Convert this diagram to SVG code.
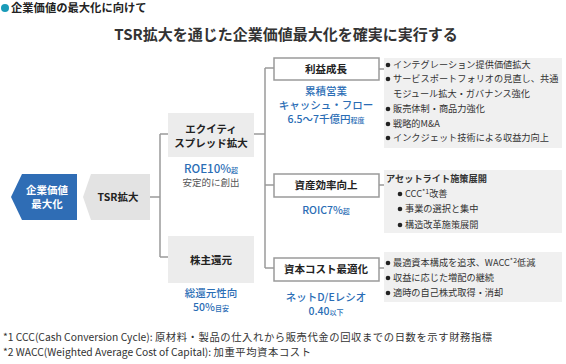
<svg xmlns="http://www.w3.org/2000/svg" width="566" height="364" viewBox="0 0 566 364">
<style>
text{font-family:"Noto Sans CJK JP","Noto Sans",sans-serif;}
.b{font-weight:bold;}
.lbl{font-size:10.5px;font-weight:bold;fill:#222;text-anchor:middle;}
.blue{font-size:10.5px;font-weight:500;fill:#2a6db5;text-anchor:middle;}
.sm{font-size:7px;}
.gray{font-size:9.5px;fill:#555;text-anchor:middle;}
.li{font-size:9.2px;fill:#333;}
.box{fill:#fff;stroke:#9a9a9a;stroke-width:1.5;}
.gbox{fill:#ececec;}
.panel{fill:#f0f0f0;}
.con{fill:none;stroke:#9a9a9a;stroke-width:1.5;}
.dot{fill:#222;}
.fn{font-size:10.3px;fill:#333;}
.fj{letter-spacing:0.6px;}
</style>
<rect width="566" height="364" fill="#fff"/>
<circle cx="5" cy="8" r="4" fill="#1a9bb8"/>
<text x="11" y="12" class="b" font-size="11.3" fill="#222">企業価値の最大化に向けて</text>
<text x="286" y="40" class="b" font-size="15" fill="#333" text-anchor="middle">TSR拡大を通じた企業価値最大化を確実に実行する</text>

<g id="connectors">
<path class="con" d="M150 197H160M160 134V257M160 134H168M160 257H168"/>
<path class="con" d="M254 134H265M265 68V268M265 68H274M265 185H274M265 268H274"/>
<path class="con" d="M379 69H384M379 185H384M379 268H384"/>
</g>

<g id="node-kigyo">
<polygon points="22,174 77,174 77,220 22,220 11,197" fill="#2f6db5"/>
<text x="47" y="194" class="lbl" style="fill:#fff">企業価値</text>
<text x="47" y="208" class="lbl" style="fill:#fff">最大化</text>
</g>
<g id="node-tsr">
<polygon points="91,174 150,174 150,220 91,220 83,197" fill="#e3e3e3"/>
<text x="118" y="201" class="lbl">TSR拡大</text>
</g>
<g id="node-equity">
<rect class="gbox" x="168" y="113" width="86" height="44"/>
<text x="211" y="133" class="lbl">エクイティ</text>
<text x="211" y="147" class="lbl">スプレッド拡大</text>
<text x="211" y="173" class="blue" style="font-size:11.5px">ROE10%<tspan class="sm">超</tspan></text>
<text x="211" y="186" class="gray">安定的に創出</text>
</g>
<g id="node-kabunushi">
<rect class="gbox" x="168" y="236" width="86" height="47"/>
<text x="211" y="264" class="lbl">株主還元</text>
<text x="211" y="297" class="blue">総還元性向</text>
<text x="211" y="311" class="blue">50%<tspan class="sm">目安</tspan></text>
</g>
<g id="node-rieki">
<rect class="box" x="274" y="58" width="105" height="22"/>
<text x="326" y="73" class="lbl">利益成長</text>
<text x="326" y="95" class="blue">累積営業</text>
<text x="326" y="109" class="blue">キャッシュ・フロー</text>
<text x="326" y="123" class="blue">6.5～7千億円<tspan class="sm">程度</tspan></text>
</g>
<g id="node-shisan">
<rect class="box" x="274" y="174" width="105" height="23"/>
<text x="326" y="189" class="lbl">資産効率向上</text>
<text x="326" y="214" class="blue">ROIC7%<tspan class="sm">超</tspan></text>
</g>
<g id="node-shihon">
<rect class="box" x="274" y="258" width="105" height="23"/>
<text x="326" y="273" class="lbl">資本コスト最適化</text>
<text x="326" y="301" class="blue">ネットD/Eレシオ</text>
<text x="326" y="315" class="blue">0.40<tspan class="sm">以下</tspan></text>
</g>

<g id="panel-rieki">
<rect class="panel" x="384" y="58" width="178" height="90"/>
<circle class="dot" cx="388" cy="65" r="2.3"/>
<text x="393" y="68" class="li">インテグレーション提供価値拡大</text>
<circle class="dot" cx="388" cy="79" r="2.3"/>
<text x="393" y="82" class="li">サービスポートフォリオの見直し、共通</text>
<text x="393" y="97" class="li">モジュール拡大・ガバナンス強化</text>
<circle class="dot" cx="388" cy="109" r="2.3"/>
<text x="393" y="112" class="li">販売体制・商品力強化</text>
<circle class="dot" cx="388" cy="124" r="2.3"/>
<text x="393" y="127" class="li">戦略的M&amp;A</text>
<circle class="dot" cx="388" cy="138" r="2.3"/>
<text x="393" y="141" class="li">インクジェット技術による収益力向上</text>
</g>
<g id="panel-shisan">
<rect class="panel" x="384" y="170" width="178" height="63"/>
<text x="386" y="182" class="li b" fill="#222">アセットライト施策展開</text>
<circle class="dot" cx="400" cy="194" r="2.3"/>
<text x="405" y="197" class="li">CCC<tspan class="sm" dy="-3">*1</tspan><tspan dy="3">改善</tspan></text>
<circle class="dot" cx="400" cy="209" r="2.3"/>
<text x="405" y="212" class="li">事業の選択と集中</text>
<circle class="dot" cx="400" cy="225" r="2.3"/>
<text x="405" y="228" class="li">構造改革施策展開</text>
</g>
<g id="panel-shihon">
<rect class="panel" x="384" y="252" width="178" height="50"/>
<circle class="dot" cx="388" cy="263" r="2.3"/>
<text x="393" y="266" class="li">最適資本構成を追求、WACC<tspan class="sm" dy="-3">*2</tspan><tspan dy="3">低減</tspan></text>
<circle class="dot" cx="388" cy="278" r="2.3"/>
<text x="393" y="281" class="li">収益に応じた増配の継続</text>
<circle class="dot" cx="388" cy="293" r="2.3"/>
<text x="393" y="296" class="li">適時の自己株式取得・消却</text>
</g>

<text x="3" y="341" class="fn">*1 CCC(Cash Conversion Cycle): <tspan class="fj">原材料・製品の仕入れから販売代金の回収までの日数を示す財務指標</tspan></text>
<text x="3" y="356" class="fn">*2 WACC(Weighted Average Cost of Capital): <tspan class="fj">加重平均資本コスト</tspan></text>
</svg>
